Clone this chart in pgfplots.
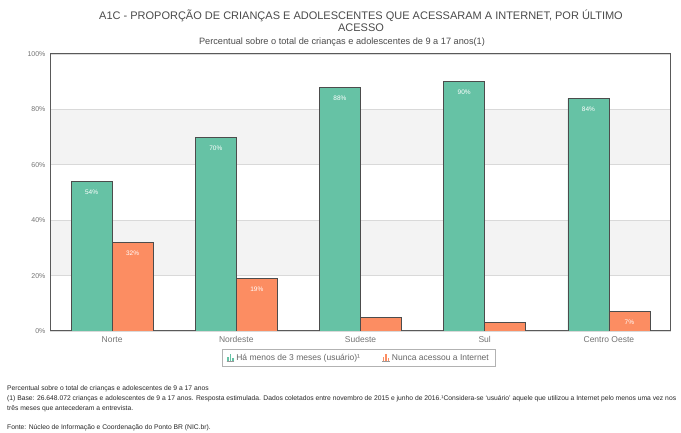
\documentclass[border=0pt]{standalone}
\usepackage{pgfplots}
\pgfplotsset{compat=1.18}
\usepackage{pgfplotstable}
\usepackage{fontspec}
\setmainfont{Liberation Sans}
\definecolor{cgreen}{HTML}{66C2A5}
\definecolor{corange}{HTML}{FC8D62}
\definecolor{band}{HTML}{F3F3F3}
\definecolor{txt}{HTML}{4A4A4A}
\pgfplotstableread{
x y lbl
0 54 54\%
1 70 70\%
2 88 88\%
3 90 90\%
4 84 84\%
}\greendata
\pgfplotstableread{
x y lbl
0 32 32\%
1 19 19\%
2 5 {}
3 3 {}
4 7 7\%
}\orangedata
\begin{document}
\begin{tikzpicture}[x=1pt,y=1pt]
\path (0,0) rectangle (681,433);
\node[font=\fontsize{11}{12}\selectfont, text=txt, align=center] at (361,412) {A1C - PROPORÇÃO DE CRIANÇAS E ADOLESCENTES QUE ACESSARAM A INTERNET, POR ÚLTIMO\\ACESSO};
\node[font=\fontsize{9.2}{10}\selectfont, text=txt] at (342,391) {Percentual sobre o total de crianças e adolescentes de 9 a 17 anos(1)};
\begin{axis}[
  at={(50pt,102pt)}, anchor=south west,
  width=621pt, height=277pt, scale only axis,
  set layers,
  ymin=0, ymax=100, xmin=-0.5, xmax=4.5,
  xtick={0,1,2,3,4},
  xticklabels={Norte,Nordeste,Sudeste,Sul,Centro Oeste},
  ytick={0,20,40,60,80,100},
  yticklabel={\pgfmathprintnumber{\tick}\%},
  /pgf/number format/assume math mode=true,
  ymajorgrids,
  grid style={black!15, line width=0.6pt},
  axis line style={black!65, line width=1pt},
  major tick length=0pt,
  xticklabel style={font=\fontsize{8.5}{9}\selectfont, text=black!55, yshift=-2pt},
  yticklabel style={font=\fontsize{7}{8}\selectfont, text=black!55, xshift=-1pt},
  ybar=0pt, bar width=41pt,
  point meta=explicit symbolic,
  nodes near coords={\pgfplotspointmeta},
  nodes near coords style={text=white, anchor=center, yshift=-11pt, font=\fontsize{6.5}{7}\selectfont},
  legend columns=2,
  legend style={at={(0.497,-0.097)}, anchor=center, draw=black!30, line width=0.6pt,
    font=\fontsize{8.5}{10}\selectfont, text=black!60, inner xsep=4pt, inner ysep=3pt,
    /tikz/every even column/.append style={column sep=20pt}},
  legend image code/.code={
    \fill[#1,draw=none] (0pt,-3pt) rectangle (1.6pt,1pt);
    \fill[#1,draw=none] (2.4pt,-3pt) rectangle (4pt,4pt);
    \fill[#1,draw=none] (4.8pt,-3pt) rectangle (6.4pt,-0.5pt);
    \draw[black!40,line width=0.4pt] (-0.5pt,-3.2pt) -- (7pt,-3.2pt);
  },
]
\begin{pgfonlayer}{axis background}
\fill[band] (axis cs:-0.5,20) rectangle (axis cs:4.5,40);
\fill[band] (axis cs:-0.5,60) rectangle (axis cs:4.5,80);
\end{pgfonlayer}
\addplot[fill=cgreen, draw=black!70, line width=0.7pt] table[x=x, y=y, meta=lbl] {\greendata};
\addplot[fill=corange, draw=black!70, line width=0.7pt] table[x=x, y=y, meta=lbl] {\orangedata};
\legend{Há menos de 3 meses (usuário)¹, Nunca acessou a Internet}
\end{axis}
\begin{scope}[every node/.style={anchor=base west, inner sep=0pt, font=\fontsize{6.75}{7}\selectfont, text=black!85}]
\node at (7,42) {Percentual sobre o total de crianças e adolescentes de 9 a 17 anos};
\node at (7,32) {(1) Base: 26.648.072 crianças e adolescentes de 9 a 17 anos. Resposta estimulada. Dados coletados entre novembro de 2015 e junho de 2016.¹Considera-se ‘usuário’ aquele que utilizou a Internet pelo menos uma vez nos};
\node at (7,22) {três meses que antecederam a entrevista.};
\node at (7,3) {Fonte: Núcleo de Informação e Coordenação do Ponto BR (NIC.br).};
\end{scope}
\end{tikzpicture}
\end{document}
